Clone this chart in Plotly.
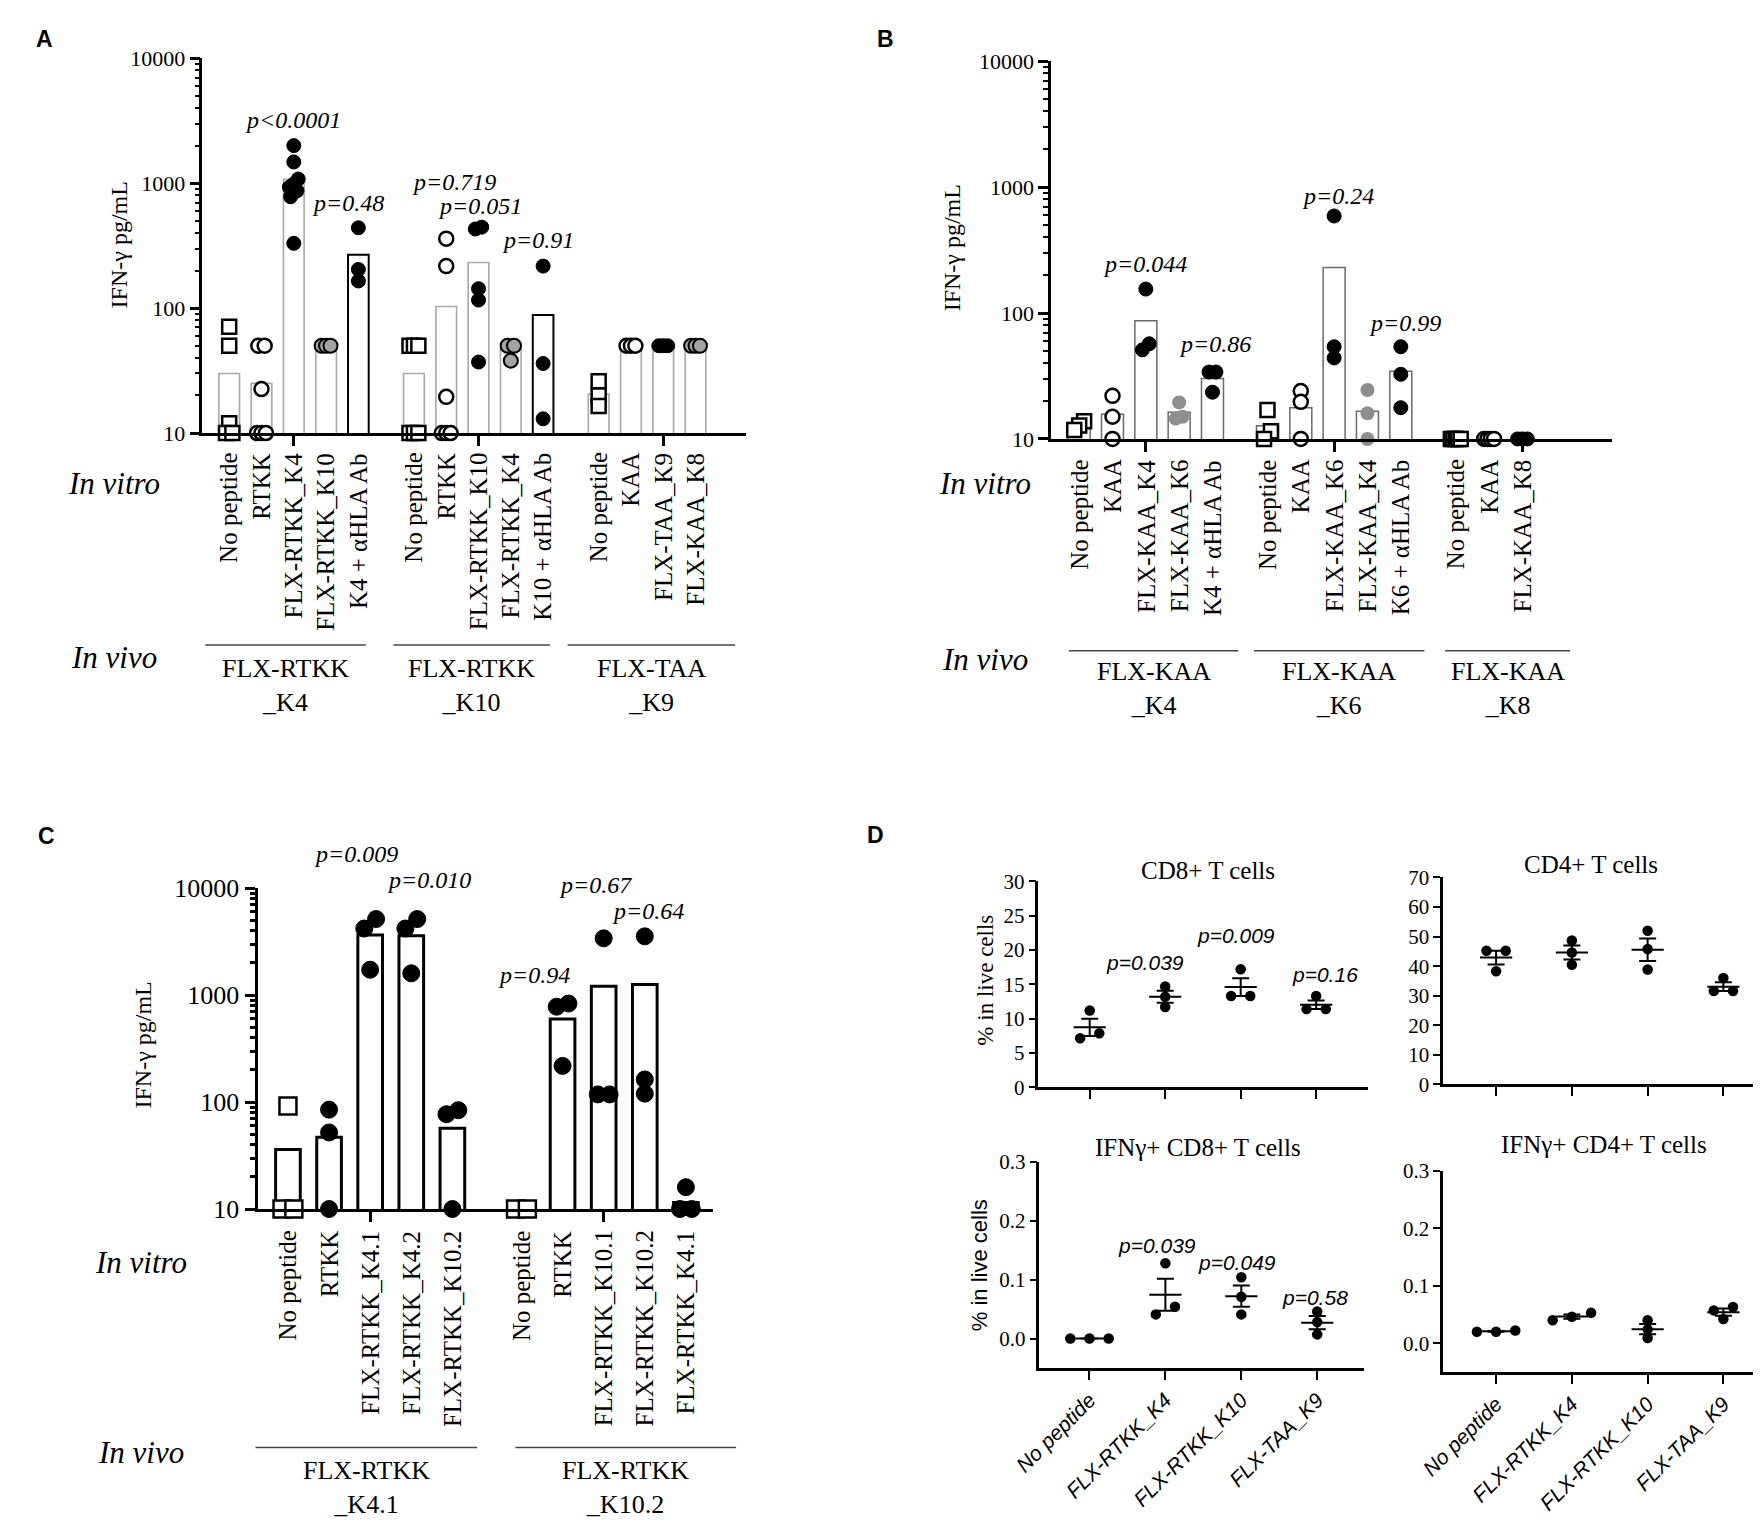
import numpy as np
import plotly.graph_objects as go

W, H = 1761, 1528
SERIF = 'Liberation Serif, Times New Roman, serif'
SANS = 'Liberation Sans, Arial, sans-serif'

# ---- panel A : IFN-g pg/mL, in vivo groups FLX-RTKK_K4 / _K10 / FLX-TAA_K9
a_cols = ['No peptide', 'RTKK', 'FLX-RTKK_K4', 'FLX-RTKK_K10', 'K4 + αHLA Ab',
          'No peptide', 'RTKK', 'FLX-RTKK_K10', 'FLX-RTKK_K4', 'K10 + αHLA Ab',
          'No peptide', 'KAA', 'FLX-TAA_K9', 'FLX-KAA_K8']
a_groups = ['FLX-RTKK<br>_K4', 'FLX-RTKK<br>_K10', 'FLX-TAA<br>_K9']
a_sizes = [5, 5, 4]
a_bar = [30, 25, 1075, 50, 267, 30, 103, 232, 48, 88, 20.5, 50, 50, 50]
a_pts = [[71, 50, 12, 10, 10], [50, 50, 22.5, 10, 10, 10],
         [2000, 1480, 1080, 985, 930, 870, 780, 330], [50, 50, 50], [440, 204, 165],
         [50, 50, 50, 10, 10, 10], [360, 217, 19.5, 10, 10, 10],
         [445, 430, 143, 116, 37], [50, 50, 38], [217, 36, 13],
         [26, 20, 16.5], [50, 50, 50], [50, 50, 50], [50, 50, 50]]
a_p = ['p&lt;0.0001', 'p=0.48', 'p=0.719', 'p=0.051', 'p=0.91']

# ---- panel B
b_cols = ['No peptide', 'KAA', 'FLX-KAA_K4', 'FLX-KAA_K6', 'K4 + αHLA Ab',
          'No peptide', 'KAA', 'FLX-KAA_K6', 'FLX-KAA_K4', 'K6 + αHLA Ab',
          'No peptide', 'KAA', 'FLX-KAA_K8']
b_groups = ['FLX-KAA<br>_K4', 'FLX-KAA<br>_K6', 'FLX-KAA<br>_K8']
b_sizes = [5, 5, 3]
b_bar = [12.7, 15.7, 87, 16.3, 30.2, 12.7, 17.7, 230, 16.6, 34.5, 10, 10, 10]
b_pts = [[13.8, 12.8, 11.8], [22, 15, 10], [155, 57, 51], [19.5, 15, 14.5],
         [34, 34, 23.5], [17, 11.5, 10], [24, 19.7, 10], [590, 54, 44],
         [24.5, 16, 10], [54, 32.6, 17.7], [10, 10, 10, 10, 10], [10, 10, 10, 10],
         [10, 10, 10]]
b_p = ['p=0.044', 'p=0.86', 'p=0.24', 'p=0.99']

# ---- panel C
c_cols = ['No peptide', 'RTKK', 'FLX-RTKK_K4.1', 'FLX-RTKK_K4.2', 'FLX-RTKK_K10.2',
          'No peptide', 'RTKK', 'FLX-RTKK_K10.1', 'FLX-RTKK_K10.2', 'FLX-RTKK_K4.1']
c_groups = ['FLX-RTKK<br>_K4.1', 'FLX-RTKK<br>_K10.2']
c_sizes = [5, 5]
c_bar = [36, 47, 3650, 3600, 57, 10, 600, 1210, 1260, 11.5]
c_pts = [[92, 10, 10], [85, 52, 10], [5150, 4200, 1730], [5150, 4200, 1600],
         [84, 77, 10], [10, 10], [835, 780, 218], [3400, 118, 118],
         [3550, 163, 120], [16, 10, 10]]
c_p = ['p=0.009', 'p=0.010', 'p=0.94', 'p=0.67', 'p=0.64']

# ---- panel D
d_cats = ['No peptide', 'FLX-RTKK_K4', 'FLX-RTKK_K10', 'FLX-TAA_K9']
d_cd8 = [[11.2, 7.15, 7.87], [14.7, 13.2, 11.7], [17.2, 13.3, 13.3], [13.3, 11.4, 11.4]]
d_cd4 = [[45.2, 45.2, 38.3], [48.7, 44.6, 40.5], [52.0, 45.8, 38.9], [36.0, 31.6, 31.6]]
d_ifn8 = [[0, 0, 0], [0.128, 0.054, 0.041], [0.104, 0.071, 0.041], [0.046, 0.028, 0.007]]
d_ifn4 = [[0.022, 0.020, 0.020], [0.053, 0.046, 0.040], [0.040, 0.024, 0.009],
          [0.063, 0.057, 0.042]]
d_p8 = ['p=0.039', 'p=0.009', 'p=0.16']
d_pifn8 = ['p=0.039', 'p=0.049', 'p=0.58']

ytick_vals = [10, 100, 1000, 10000]
ytick_text = ['10', '100', '1000', '10000']

MK = {
    'sq': dict(symbol='square', color='white', line=dict(color='black', width=2.5)),
    'oc': dict(symbol='circle', color='white', line=dict(color='black', width=2.5)),
    'bk': dict(symbol='circle', color='black', line=dict(color='black', width=1)),
    'gy': dict(symbol='circle', color='#a4a4a4', line=dict(color='black', width=2)),
    'gb': dict(symbol='circle', color='#8e8e8e', line=dict(color='#8e8e8e', width=0)),
}


def fx(x):
    return x / W


def fy(y):
    return 1 - y / H


def positions(sizes, gap):
    pos, start = [], 0.0
    for n in sizes:
        pos += [start + i for i in range(n)]
        start += n + gap
    return pos


def swarm(vals, to_px, unit_px, row_gap, step, cap):
    # GraphPad-like rows: points close in y share a row, spread symmetrically
    order = sorted(range(len(vals)), key=lambda j: -vals[j])
    rows, cur = [], []
    for i in order:
        if cur and to_px(vals[cur[0]]) - to_px(vals[i]) >= row_gap:
            rows.append(cur)
            cur = []
        cur.append(i)
    rows.append(cur)
    off = [0.0] * len(vals)
    for r in rows:
        r = sorted(r, key=lambda j: vals[j])
        n = len(r)
        s = step if n < 2 else min(step, cap / (n - 1))
        for k, j in enumerate(r):
            off[j] = (k - (n - 1) / 2) * s / unit_px
    return off


fig = go.Figure()
layout = {}
ann = []
shapes = []


def text(x, y, s, size, family=SERIF, italic=False, bold=False, angle=0, xa='center', ya='middle',
         xref='paper'):
    ann.append(dict(x=x if xref != 'paper' else fx(x), y=fy(y), xref=xref, yref='paper', text=s,
                    showarrow=False, textangle=angle, xanchor=xa, yanchor=ya,
                    font=dict(family=family, size=size, color='black',
                              style='italic' if italic else 'normal',
                              weight='bold' if bold else 'normal')))


def bar_panel(n, cols, sizes, gap, bars, pts, kinds, edges, box, xr, tickfs, diam, bw, lw,
              lab_y, step, cap):
    ax = '' if n == 1 else str(n)
    x0, x1, yt, yb = box
    pos = positions(sizes, gap)
    unit_px = (x1 - x0) / (xr[1] - xr[0])
    dec_px = (yb - yt) / 3
    fig.add_trace(go.Bar(x=pos, y=bars, width=bw, xaxis='x' + ax, yaxis='y' + ax,
                         marker=dict(color='white',
                                     line=dict(color=[e[0] for e in edges],
                                               width=[e[1] for e in edges]))))
    for p, vals, k in zip(pos, pts, kinds):
        off = swarm(vals, lambda v: np.log10(v) * dec_px, unit_px, 0.65 * diam, step, cap)
        fig.add_trace(go.Scatter(x=[p + o for o in off], y=vals, mode='markers',
                                 xaxis='x' + ax, yaxis='y' + ax, cliponaxis=False,
                                 marker=dict(size=diam, **MK[k])))
    starts = [0] + list(np.cumsum(sizes)[:-1])
    ticks = [pos[s + 2] for s in starts]
    layout['xaxis' + ax] = dict(domain=[fx(x0), fx(x1)], range=xr, anchor='y' + ax,
                                showline=True, linewidth=lw, linecolor='black',
                                ticks='outside', ticklen=10, tickwidth=lw, tickcolor='black',
                                tickvals=ticks, showticklabels=False, showgrid=False,
                                zeroline=False)
    layout['yaxis' + ax] = dict(domain=[fy(yb), fy(yt)], type='log', range=[1, 4],
                                anchor='x' + ax, showline=True, linewidth=lw,
                                linecolor='black', ticks='outside', ticklen=10,
                                tickwidth=lw, tickcolor='black', showgrid=False,
                                tickvals=ytick_vals, ticktext=ytick_text,
                                tickfont=dict(family=SERIF, size=tickfs, color='black'),
                                minor=dict(ticks='outside', ticklen=5, tickwidth=lw - 0.5,
                                           tickcolor='black', showgrid=False,
                                           tickvals=[m * 10 ** e for e in (1, 2, 3)
                                                     for m in range(2, 10)]))
    for p, c in zip(pos, cols):
        text(p, lab_y, c, 25, angle=-90, ya='top', xref='x' + ax)
    return pos


GREY = ('#a8a8a8', 1.6)
BLK = ('black', 2)
DG = ('#6a6a6a', 1.5)
CB = ('black', 3)

# panel A
bar_panel(1, a_cols, a_sizes, 0.72, a_bar, a_pts,
          ['sq', 'oc', 'bk', 'gy', 'bk', 'sq', 'oc', 'bk', 'gy', 'bk', 'sq', 'oc', 'bk', 'gy'],
          [GREY, GREY, GREY, GREY, BLK, GREY, GREY, GREY, GREY, BLK, GREY, GREY, GREY, GREY],
          (170, 722, 37, 419), [-0.83, 16.0], 22, 14, 0.64, 2.5, 437, 6.5, 9)
# panel B
bar_panel(2, b_cols, b_sizes, 0.65, b_bar, b_pts,
          ['sq', 'oc', 'bk', 'gb', 'bk', 'sq', 'oc', 'bk', 'gb', 'bk', 'sq', 'oc', 'bk'],
          [DG] * 13, (1032, 1602, 40, 425), [-0.84, 16.0], 22, 14, 0.66, 2.5, 444, 7, 10)
# panel C
bar_panel(3, c_cols, c_sizes, 0.68, c_bar, c_pts,
          ['sq', 'bk', 'bk', 'bk', 'bk', 'sq', 'bk', 'bk', 'bk', 'bk'],
          [CB] * 10, (226, 689, 883, 1210), [-0.74, 10.35], 26, 17, 0.6, 3, 1230, 12, 14)


def dot_panel(n, groups, box, xr, yr, yticks, yfmt, xlabels):
    ax = str(n)
    x0, x1, yt, yb = box
    unit_px = (x1 - x0) / (xr[1] - xr[0])
    y_px = (yb - yt) / (yr[1] - yr[0])
    for i, vals in enumerate(groups):
        off = swarm(vals, lambda v: v * y_px, unit_px, 8, 19.5, 40)
        fig.add_trace(go.Scatter(x=[i + o for o in off], y=vals, mode='markers',
                                 xaxis='x' + ax, yaxis='y' + ax, cliponaxis=False,
                                 marker=dict(size=10.5, color='black', symbol='circle')))
    means = [float(np.mean(v)) for v in groups]
    sems = [float(np.std(v, ddof=1) / np.sqrt(len(v))) for v in groups]
    fig.add_trace(go.Scatter(x=list(range(len(groups))), y=means, mode='markers',
                             xaxis='x' + ax, yaxis='y' + ax, cliponaxis=False,
                             marker=dict(symbol='line-ew', size=23,
                                         line=dict(color='black', width=2)),
                             error_y=dict(type='data', array=sems, width=8.5, thickness=2,
                                          color='black')))
    layout['xaxis' + ax] = dict(domain=[fx(x0), fx(x1)], range=xr, anchor='y' + ax,
                                showline=True, linewidth=2.5, linecolor='black',
                                ticks='outside', ticklen=9, tickwidth=2, tickcolor='black',
                                tickvals=list(range(len(d_cats))), ticktext=d_cats,
                                showticklabels=xlabels, tickangle=-45,
                                tickfont=dict(family=SANS, size=21, style='italic',
                                              color='black'),
                                showgrid=False, zeroline=False)
    layout['yaxis' + ax] = dict(domain=[fy(yb), fy(yt)], range=yr, anchor='x' + ax,
                                showline=True, linewidth=2.5, linecolor='black',
                                ticks='outside', ticklen=7, tickwidth=2, tickcolor='black',
                                tickvals=yticks, tickformat=yfmt, showgrid=False,
                                zeroline=False,
                                tickfont=dict(family=SERIF, size=21, color='black'))


dot_panel(4, d_cd8, (1019, 1354, 876, 1086), [-0.68, 3.69], [0, 30],
          list(range(0, 31, 5)), 'd', False)
dot_panel(5, d_cd4, (1430, 1757, 872, 1083), [-0.70, 3.55], [0, 70],
          list(range(0, 71, 10)), 'd', False)
dot_panel(6, d_ifn8, (1020, 1350, 1162, 1372), [-0.66, 3.62], [-0.05, 0.3],
          [0, 0.1, 0.2, 0.3], '.1f', True)
dot_panel(7, d_ifn4, (1430, 1757, 1171, 1376), [-0.70, 3.55], [-0.05, 0.3],
          [0, 0.1, 0.2, 0.3], '.1f', True)

# panel letters
for s, x, y in [('A', 10, 17), ('B', 864, 17), ('C', 12, 830), ('D', 854, 829)]:
    text(x, y, s, 23, family=SANS, bold=True)

# y titles
for x, y in [(85, 227), (931, 230), (110, 1043)]:
    text(x, y, 'IFN-γ pg/mL', 24, angle=-90)
text(965, 977, '% in live cells', 23, angle=-90)
text(960, 1267, '% in live cells', 22, family=SANS, angle=-90)

# in vitro / in vivo
for x, y1, y2 in [(80, 470, 648), (965, 470, 650), (108, 1265, 1458)]:
    text(x, y1, 'In vitro', 31, italic=True)
    text(x, y2, 'In vivo', 31, italic=True)

# group lines + in vivo labels
for ly, spans, labels, ty in [(635, [(173, 336), (364, 523), (541, 711)], a_groups, 676),
                              (641, [(1050, 1222), (1238, 1411), (1432, 1559)], b_groups, 679),
                              (1453, [(224, 449), (488, 712)], c_groups, 1494)]:
    for (sx0, sx1), g in zip(spans, labels):
        shapes.append(dict(type='line', xref='paper', yref='paper', x0=fx(sx0), x1=fx(sx1),
                           y0=fy(ly), y1=fy(ly), line=dict(color='#444', width=1.5)))
        text((sx0 + sx1) / 2, ty, g, 26)

# p values
for s, (x, y) in zip(a_p, [(262, 100), (318, 185), (426, 163), (452, 188), (511, 222)]):
    text(x, y, s, 24, italic=True)
for s, (x, y) in zip(b_p, [(1127, 247), (1198, 328), (1323, 177), (1391, 307)]):
    text(x, y, s, 24, italic=True)
for s, (x, y) in zip(c_p, [(326, 848), (400, 875), (507, 971), (569, 880), (623, 906)]):
    text(x, y, s, 24, italic=True)
for s, (x, y) in zip(d_p8, [(1127, 959), (1220, 931), (1310, 971)]):
    text(x, y, s, 21, family=SANS, italic=True)
for s, (x, y) in zip(d_pifn8, [(1139, 1247), (1221, 1264), (1300, 1300)]):
    text(x, y, s, 21, family=SANS, italic=True)

# D titles
for s, x, y in [('CD8+ T cells', 1191, 865), ('CD4+ T cells', 1580, 859),
                ('IFNγ+ CD8+ T cells', 1181, 1147), ('IFNγ+ CD4+ T cells', 1593, 1144)]:
    text(x, y, s, 25)

fig.update_layout(width=W, height=H, margin=dict(l=0, r=0, t=0, b=0),
                  paper_bgcolor='white', plot_bgcolor='white', showlegend=False,
                  annotations=ann, shapes=shapes, **layout)
fig.write_html("out.html")
